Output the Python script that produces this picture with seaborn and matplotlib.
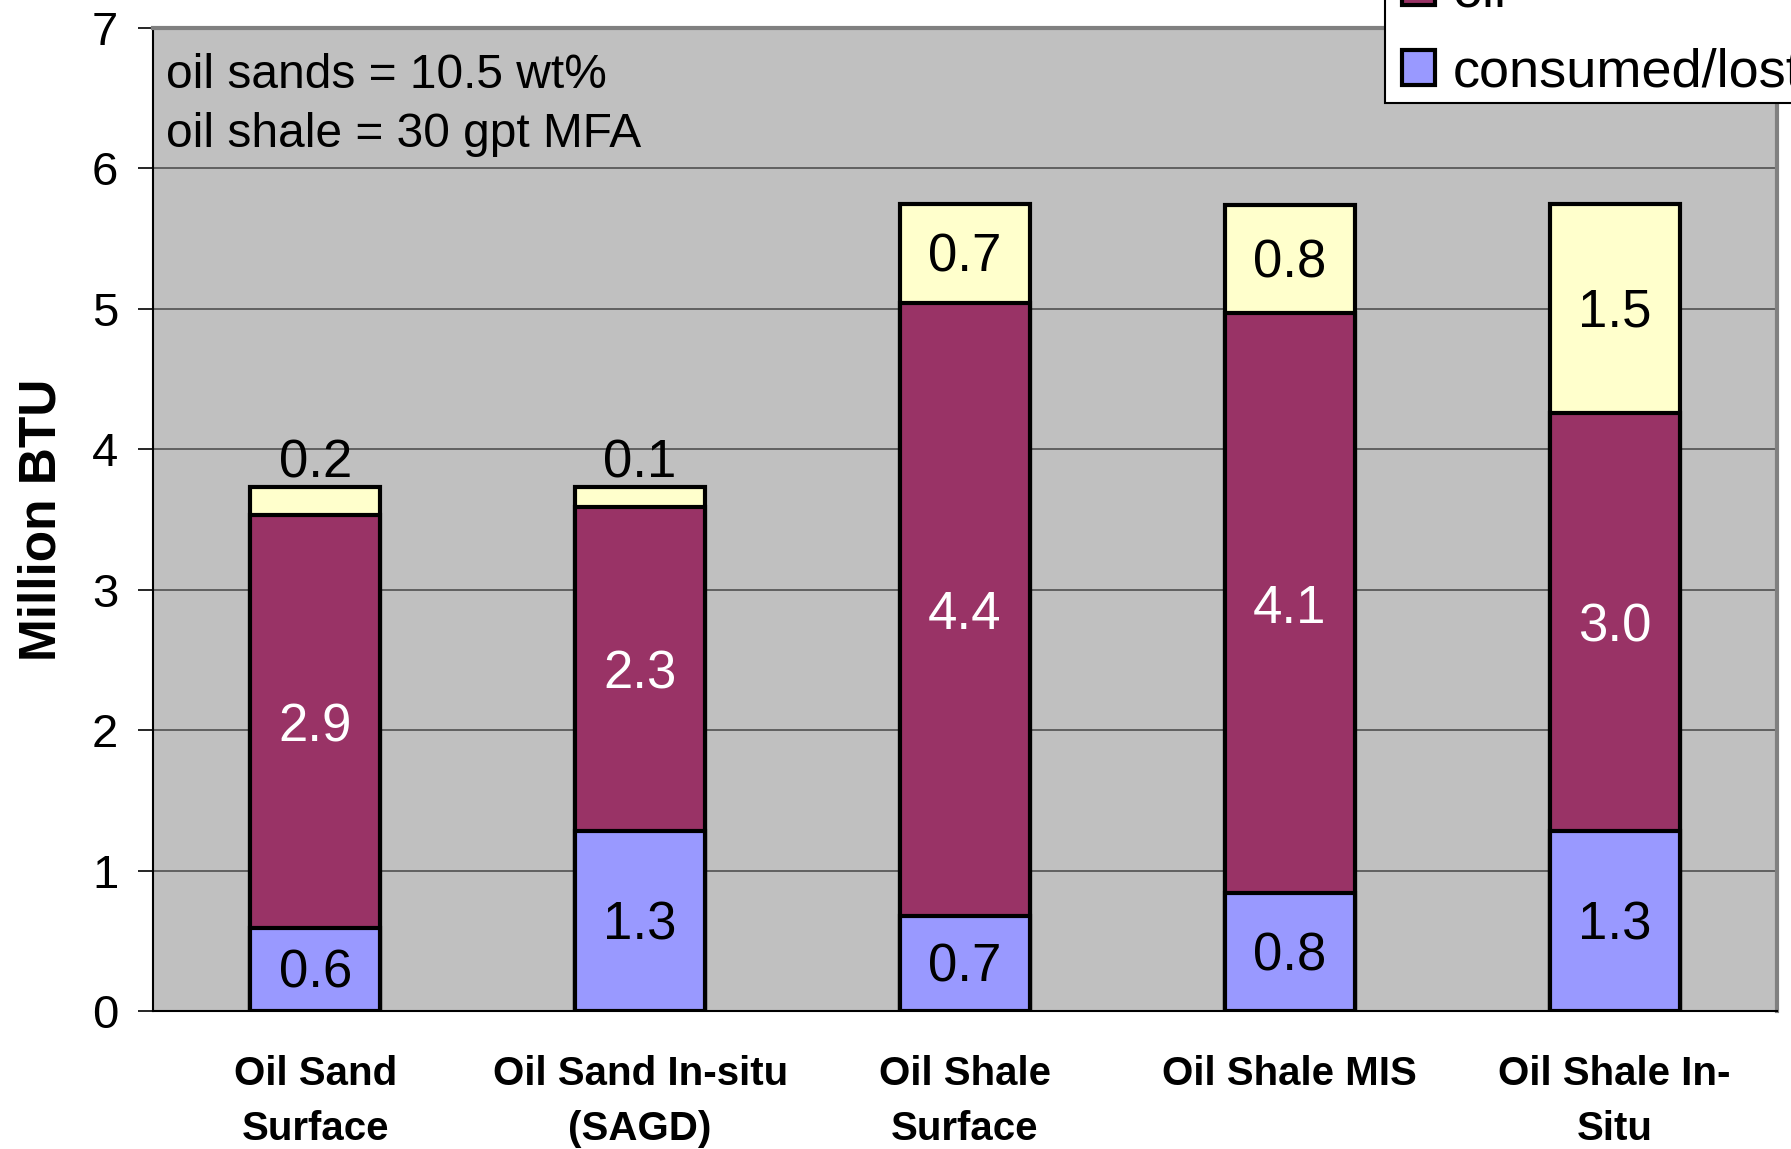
import matplotlib
matplotlib.use("Agg")
import matplotlib.pyplot as plt
import matplotlib.patches as mpatches
import numpy as np
import pandas as pd
import seaborn as sns

# values (Million BTU)
processes = ["Oil Sand\nSurface", "Oil Sand In-situ\n(SAGD)", "Oil Shale\nSurface",
             "Oil Shale MIS", "Oil Shale In-\nSitu"]
consumed = [0.59, 1.28, 0.68, 0.84, 1.28]
oil = [2.94, 2.31, 4.36, 4.13, 2.98]
gas = [0.20, 0.14, 0.71, 0.77, 1.49]

c_blue = "#9999FF"
c_purple = "#993366"
c_yellow = "#FFFFCC"
c_bg = "#C0C0C0"

df = pd.DataFrame({"process": processes, "consumed": consumed, "oil": oil, "gas": gas})
df["lvl1"] = df["consumed"]
df["lvl2"] = df["consumed"] + df["oil"]
df["lvl3"] = df["lvl2"] + df["gas"]

sns.set_style("white")
plt.rcParams["font.family"] = ["Liberation Sans", "DejaVu Sans"]
plt.rcParams["text.color"] = "black"
plt.rcParams["axes.labelcolor"] = "black"
plt.rcParams["xtick.color"] = "black"
plt.rcParams["ytick.color"] = "black"

fig = plt.figure(figsize=(17.91, 11.49), dpi=100)
ax = fig.add_axes([0.0854, 0.1201, 0.9922 - 0.0854, 0.9756 - 0.1201])
ax.set_facecolor(c_bg)

# cumulative heights drawn back to front so the stack looks right
for col, colr in [("lvl3", c_yellow), ("lvl2", c_purple), ("lvl1", c_blue)]:
    sns.barplot(data=df, x="process", y=col, color=colr, width=0.4,
                edgecolor="black", linewidth=3, ax=ax, zorder=3, saturation=1)

ax.set_ylim(0, 7)
ax.set_xlim(-0.5, 4.5)
ax.set_yticks(range(0, 8))
ax.yaxis.grid(True, color="#505050", linewidth=1.2, zorder=0)
ax.set_axisbelow(True)

# segment labels
fs = 38
for i, r in df.iterrows():
    ax.text(i, r["consumed"] / 2 - 0.03, f"{r['consumed']:.1f}", ha="center", va="center",
            fontsize=fs, color="black", zorder=5)
    ax.text(i, r["lvl1"] + r["oil"] / 2 - 0.04, f"{r['oil']:.1f}", ha="center", va="center",
            fontsize=fs, color="white", zorder=5)
    if r["gas"] < 0.4:
        ax.text(i, r["lvl3"] - 0.01, f"{r['gas']:.1f}", ha="center", va="bottom",
                fontsize=fs, color="black", zorder=5)
    else:
        ax.text(i, r["lvl2"] + r["gas"] / 2 - 0.03, f"{r['gas']:.1f}", ha="center", va="center",
                fontsize=fs, color="black", zorder=5)

ax.set_xlabel("")
ax.set_ylabel("Million BTU", fontsize=37, fontweight="bold", labelpad=18)
ax.set_xticks(range(5))
ax.set_xticklabels(processes, fontsize=29, fontweight="bold", linespacing=1.55)
ax.set_xticks(np.arange(-0.5, 5, 1), minor=True)
ax.tick_params(axis="x", which="major", length=0, pad=32)
ax.tick_params(axis="x", which="minor", length=12, width=1.2, color="black", direction="out")
ax.tick_params(axis="y", labelsize=34, length=11, width=1.2, color="black",
               direction="out", pad=14, left=True)

for s in ["left", "bottom"]:
    ax.spines[s].set_color("black")
    ax.spines[s].set_linewidth(1.5)
for s in ["top", "right"]:
    ax.spines[s].set_color("#808080")
    ax.spines[s].set_linewidth(3)
    ax.spines[s].set_visible(True)

ax.text(0.008, 0.975, "oil sands = 10.5 wt%\noil shale = 30 gpt MFA", transform=ax.transAxes,
        ha="left", va="top", fontsize=34.5, linespacing=1.42)

# legend box runs off the top-right corner, as in the original
W, H = 1791, 1149
frame = mpatches.Rectangle((1385 / W, 1 - 103 / H), 0.3, 0.2, transform=fig.transFigure,
                           facecolor="white", edgecolor="black", linewidth=1.5, zorder=10)
fig.patches.append(frame)
handles = [mpatches.Patch(facecolor=c_yellow, edgecolor="black", linewidth=3, label="gas"),
           mpatches.Patch(facecolor=c_purple, edgecolor="black", linewidth=3, label="oil"),
           mpatches.Patch(facecolor=c_blue, edgecolor="black", linewidth=3, label="consumed/lost")]
leg = fig.legend(handles=handles, loc="lower left", bbox_to_anchor=(1397 / W, 1 - 103 / H),
                 fontsize=39, frameon=False, handlelength=0.6, handleheight=0.6,
                 handletextpad=0.33, labelspacing=0.55, borderpad=0.1, borderaxespad=0)
leg.set_zorder(11)

fig.savefig("out.png", dpi=100)
